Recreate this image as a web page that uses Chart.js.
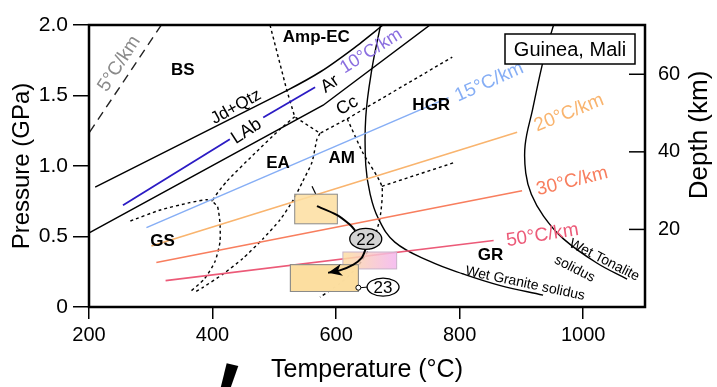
<!DOCTYPE html>
<html>
<head>
<meta charset="utf-8">
<script src="https://cdn.jsdelivr.net/npm/chart.js@4.4.1/dist/chart.umd.min.js"></script>
<style>
  html, body { margin: 0; padding: 0; background: #fff; }
  #wrap { width: 717px; height: 387px; }
</style>
</head>
<body>
<div id="wrap"><canvas id="ptChart" width="717" height="387"></canvas></div>
<script>
// P-T diagram, temperature (°C) vs pressure (GPa) with depth (km) on the right

const kmPerGPa = 36.35;

// geotherms, [T, P]
const geo5 = [[201, 1.24], [317, 2.0]];
const geo10a = [[255, 0.722], [428, 1.189]];
const geo10b = [[482, 1.344], [566, 1.558]];
const geo15 = [[293, 0.563], [782, 1.485]];
const geo20 = [[301, 0.433], [893, 1.239]];
const geo30 = [[309, 0.316], [901, 0.824]];
const geo50 = [[324, 0.187], [855, 0.472]];

// reactions and solidi
const jdQtz = [[210, 0.85], [520, 1.535], [576, 1.672], [630, 1.84], [676, 2.0]];
const albiteOut = [[201, 0.528], [579, 1.431], [752, 2.0]];
const graniteSolidus = [[672, 2.0], [658, 1.69], [648, 1.348], [648, 1.007], [655, 0.802], [668, 0.631],
  [695, 0.46], [752, 0.323], [806, 0.234], [866, 0.152], [935, 0.084]];
const tonaliteSolidus = [[952, 2.0], [936, 1.76], [918, 1.4], [906, 1.15], [907, 0.95], [916, 0.8],
  [936, 0.643], [968, 0.483], [1022, 0.312], [1071, 0.198]];

// facies boundaries (dotted)
const faciesTop = [[493, 2.0], [520, 1.54], [533, 1.349], [574, 1.232], [618, 1.335], [788, 1.772]];
const faciesEaGs = [[533, 1.349], [509, 1.26], [465, 1.075], [423, 0.891], [400, 0.754], [408, 0.713],
  [412, 0.597], [412, 0.46], [404, 0.323], [387, 0.2], [363, 0.105]];
const faciesGs = [[267, 0.61], [314, 0.686], [363, 0.74], [390, 0.761], [400, 0.754]];
const faciesEaAm = [[574, 1.232], [569, 1.191], [561, 1.027], [546, 0.891], [530, 0.754], [509, 0.617],
  [481, 0.481], [449, 0.344], [417, 0.234], [384, 0.138], [371, 0.105]];
const faciesAmHgr = [[618, 1.335], [643, 1.096], [674, 0.856], [671, 0.631], [658, 0.446], [634, 0.282],
  [606, 0.166], [574, 0.07]];
const faciesHgrBranch = [[674, 0.856], [793, 1.027]];
const box1Marker = [[561, 0.856], [567, 0.802]];

// P-T boxes: temperature range and pressure range
const boxT = [[533, 602], [526, 636], [611, 698]];
const boxP = [[0.59, 0.80], [0.11, 0.30], [0.27, 0.39]];

// retrograde path between the boxes
const pathIn = [[569, 0.715], [601, 0.654], [622, 0.585], [631, 0.542]];
const pathOut = [[648, 0.414], [641, 0.346], [628, 0.301], [606, 0.26], [587, 0.243]];
const sample22 = [648, 0.483];
const sample23 = [676, 0.141];
const sample23Anchor = [636, 0.137];

const FONT = "'Liberation Sans', Arial, sans-serif";
Chart.defaults.font.family = FONT;
Chart.defaults.color = '#000';

const regionLabels = [
  ['BS', 352, 1.68], ['Amp-EC', 568, 1.912], ['HGR', 754, 1.431], ['EA', 506, 1.02],
  ['AM', 609, 1.058], ['GS', 319, 0.467], ['GR', 850, 0.364]
];
const curveLabels = [
  { text: '5°C/km', t: 249, p: 1.725, rot: -57, color: '#8a8a8a', size: 19 },
  { text: 'Jd+Qtz', t: 438, p: 1.418, rot: -29, color: '#000', size: 17 },
  { text: 'LAb', t: 455, p: 1.246, rot: -33, color: '#000', size: 18 },
  { text: 'Ar', t: 590, p: 1.581, rot: -35, color: '#000', size: 18 },
  { text: 'Cc', t: 618, p: 1.428, rot: -30, color: '#000', size: 18 },
  { text: '10°C/km', t: 657, p: 1.815, rot: -32, color: '#8b6fe0', size: 18 },
  { text: '15°C/km', t: 848, p: 1.595, rot: -24, color: '#86aef5', size: 19 },
  { text: '20°C/km', t: 977, p: 1.376, rot: -22, color: '#f9b46e', size: 19 },
  { text: '30°C/km', t: 982, p: 0.891, rot: -14, color: '#f87e5e', size: 19 },
  { text: '50°C/km', t: 934, p: 0.508, rot: -9, color: '#ec5a78', size: 19 },
  { text: 'Wet Granite solidus', t: 906, p: 0.166, rot: 12, color: '#000', size: 14 },
  { text: 'Wet Tonalite', t: 1034, p: 0.332, rot: 27, color: '#000', size: 14 },
  { text: 'solidus', t: 986, p: 0.27, rot: 27, color: '#000', size: 14 }
];

const toXY = arr => arr.map(([t, p]) => ({ x: t, y: p }));

function lineSet(data, color, width, dash, tension) {
  return {
    data: toXY(data), showLine: true, borderColor: color, borderWidth: width,
    borderDash: dash || [], pointRadius: 0, tension: tension || 0, fill: false
  };
}

const DOT = [3, 3];
const datasets = [
  lineSet(geo5, '#222', 1.4, [9, 6]),
  lineSet(geo10a, '#2b1bc4', 1.8),
  lineSet(geo10b, '#2b1bc4', 1.8),
  lineSet(geo15, '#86aef5', 1.6),
  lineSet(geo20, '#f9b46e', 1.6),
  lineSet(geo30, '#f87e5e', 1.6),
  lineSet(geo50, '#ec5a78', 1.6),
  lineSet(jdQtz, '#000', 1.5, null, 0.2),
  lineSet(albiteOut, '#000', 1.5),
  lineSet(graniteSolidus, '#000', 1.4, null, 0.4),
  lineSet(tonaliteSolidus, '#000', 1.4, null, 0.4),
  lineSet(faciesTop, '#000', 1.4, DOT),
  lineSet(faciesEaGs, '#000', 1.4, DOT, 0.2),
  lineSet(faciesGs, '#000', 1.4, DOT, 0.2),
  lineSet(faciesEaAm, '#000', 1.4, DOT, 0.2),
  lineSet(faciesAmHgr, '#000', 1.4, DOT, 0.2),
  lineSet(faciesHgrBranch, '#000', 1.4, DOT),
  lineSet(box1Marker, '#000', 1.2)
];

function smoothPath(ctx, pts) {
  ctx.moveTo(pts[0][0], pts[0][1]);
  for (let i = 0; i < pts.length - 1; i++) {
    const p0 = pts[i - 1] || pts[i], p1 = pts[i], p2 = pts[i + 1], p3 = pts[i + 2] || p2;
    ctx.bezierCurveTo(
      p1[0] + (p2[0] - p0[0]) / 6, p1[1] + (p2[1] - p0[1]) / 6,
      p2[0] - (p3[0] - p1[0]) / 6, p2[1] - (p3[1] - p1[1]) / 6,
      p2[0], p2[1]);
  }
}

const overlayPlugin = {
  id: 'ptOverlay',
  afterDatasetsDraw(chart) {
    const { ctx, scales: { x, y } } = chart;
    const pt = ([t, p]) => [x.getPixelForValue(t), y.getPixelForValue(p)];
    ctx.save();

    // boxes
    boxT.forEach((tr, i) => {
      const [x0, y0] = pt([tr[0], boxP[i][1]]);
      const [x1, y1] = pt([tr[1], boxP[i][0]]);
      if (i === 2) {
        const g = ctx.createLinearGradient(x0, 0, x1, 0);
        g.addColorStop(0, 'rgba(253,222,160,0.85)');
        g.addColorStop(1, 'rgba(244,180,238,0.85)');
        ctx.fillStyle = g;
        ctx.strokeStyle = '#c9b2c9';
      } else {
        ctx.fillStyle = 'rgba(253,222,160,0.85)';
        ctx.strokeStyle = '#8a8a8a';
      }
      ctx.lineWidth = 1;
      ctx.fillRect(x0, y0, x1 - x0, y1 - y0);
      ctx.strokeRect(x0, y0, x1 - x0, y1 - y0);
    });
    // second box sits over the third one
    {
      const [x0, y0] = pt([boxT[1][0], boxP[1][1]]);
      const [x1, y1] = pt([boxT[1][1], boxP[1][0]]);
      ctx.fillStyle = 'rgba(253,222,160,0.9)';
      ctx.fillRect(x0, y0, x1 - x0, y1 - y0);
      ctx.strokeStyle = '#8a8a8a';
      ctx.strokeRect(x0, y0, x1 - x0, y1 - y0);
    }

    // path arrow
    ctx.strokeStyle = '#000';
    ctx.lineWidth = 2;
    ctx.setLineDash([]);
    ctx.beginPath(); smoothPath(ctx, pathIn.map(pt)); ctx.stroke();
    const outPx = pathOut.map(pt);
    ctx.beginPath(); smoothPath(ctx, outPx); ctx.stroke();
    const tip = outPx[outPx.length - 1], prev = outPx[outPx.length - 2];
    const a = Math.atan2(tip[1] - prev[1], tip[0] - prev[0]);
    ctx.save();
    ctx.translate(tip[0], tip[1]);
    ctx.rotate(a);
    ctx.beginPath();
    ctx.moveTo(0, 0);
    ctx.lineTo(-14, -6);
    ctx.lineTo(-10, 0);
    ctx.lineTo(-14, 6);
    ctx.closePath();
    ctx.fillStyle = '#000';
    ctx.fill();
    ctx.restore();

    // sample markers
    const drawTag = (c, label, fill, rx, ry) => {
      const [cx, cy] = pt(c);
      ctx.beginPath();
      ctx.ellipse(cx, cy, rx, ry, 0, 0, Math.PI * 2);
      ctx.fillStyle = fill;
      ctx.fill();
      ctx.lineWidth = 1.3;
      ctx.strokeStyle = '#000';
      ctx.stroke();
      ctx.fillStyle = '#000';
      ctx.font = '17px ' + FONT;
      ctx.textAlign = 'center';
      ctx.textBaseline = 'middle';
      ctx.fillText(label, cx, cy + 1);
      return [cx, cy];
    };
    drawTag(sample22, '22', '#d4d4d4', 16, 10.5);
    const c23 = drawTag(sample23, '23', '#fff', 16, 9);
    const [ax, ay] = pt(sample23Anchor);
    ctx.beginPath();
    ctx.moveTo(ax + 2.5, ay);
    ctx.lineTo(c23[0] - 16, c23[1]);
    ctx.lineWidth = 1;
    ctx.stroke();
    ctx.beginPath();
    ctx.arc(ax, ay, 2.5, 0, Math.PI * 2);
    ctx.fillStyle = '#fff';
    ctx.fill();
    ctx.stroke();

    // field names
    ctx.fillStyle = '#000';
    ctx.font = 'bold 17px ' + FONT;
    ctx.textAlign = 'center';
    ctx.textBaseline = 'middle';
    regionLabels.forEach(([txt, t, p]) => {
      const [lx, ly] = pt([t, p]);
      ctx.fillText(txt, lx, ly);
    });

    // curve labels
    curveLabels.forEach(l => {
      const [lx, ly] = pt([l.t, l.p]);
      ctx.save();
      ctx.translate(lx, ly);
      ctx.rotate(l.rot * Math.PI / 180);
      ctx.font = l.size + 'px ' + FONT;
      ctx.fillStyle = l.color;
      ctx.fillText(l.text, 0, 0);
      ctx.restore();
    });

    // locality box
    const area = chart.chartArea;
    const bw = 130, bh = 30;
    const bx = area.right - 10 - bw, by = area.top + 9;
    ctx.fillStyle = '#fff';
    ctx.fillRect(bx, by, bw, bh);
    ctx.strokeStyle = '#000';
    ctx.lineWidth = 1.5;
    ctx.strokeRect(bx, by, bw, bh);
    ctx.fillStyle = '#000';
    ctx.font = '20px ' + FONT;
    ctx.fillText('Guinea, Mali', bx + bw / 2, by + bh / 2 + 1);

    ctx.restore();
  },
  afterDraw(chart) {
    const { ctx, chartArea: area, scales: { y2 } } = chart;
    ctx.save();
    // frame
    ctx.strokeStyle = '#000';
    ctx.lineWidth = 2.5;
    ctx.strokeRect(area.left, area.top, area.right - area.left, area.bottom - area.top);
    // inward depth ticks
    ctx.lineWidth = 1.5;
    y2.ticks.forEach(tk => {
      if (tk.value === 0) return;
      const yy = y2.getPixelForValue(tk.value);
      ctx.beginPath();
      ctx.moveTo(area.right, yy);
      ctx.lineTo(area.right - 16, yy);
      ctx.stroke();
    });
    // depth axis title
    ctx.translate(area.right + 55, y2.getPixelForValue(1.22 * kmPerGPa));
    ctx.rotate(-Math.PI / 2);
    ctx.font = '26px ' + FONT;
    ctx.fillStyle = '#000';
    ctx.textAlign = 'center';
    ctx.textBaseline = 'middle';
    ctx.fillText('Depth (km)', 0, 0);
    ctx.restore();

    // stray stroke below the axis
    ctx.save();
    ctx.fillStyle = '#000';
    ctx.beginPath();
    ctx.moveTo(226.7, 363.3);
    ctx.lineTo(238.3, 366);
    ctx.lineTo(230.7, 387.5);
    ctx.lineTo(220.7, 387.5);
    ctx.closePath();
    ctx.fill();
    ctx.restore();
  }
};

new Chart(document.getElementById('ptChart'), {
  type: 'scatter',
  data: { datasets: datasets },
  options: {
    responsive: false,
    animation: false,
    events: [],
    layout: { padding: { left: 0, right: 0, top: 16, bottom: 0 } },
    plugins: { legend: { display: false }, tooltip: { enabled: false } },
    scales: {
      x: {
        type: 'linear', min: 200, max: 1100,
        afterFit: s => { s.height = 80; },
        ticks: { stepSize: 200, includeBounds: false, font: { size: 20 }, padding: 4, maxRotation: 0, callback: v => String(v) },
        grid: { drawOnChartArea: false, color: '#000', lineWidth: 1.5, tickLength: 12 },
        border: { display: false },
        title: { display: true, text: 'Temperature (°C)', font: { size: 25 }, padding: { top: 0, bottom: 2 } }
      },
      y: {
        type: 'linear', min: 0, max: 2, position: 'left',
        afterFit: s => { s.width = 89; },
        ticks: { stepSize: 0.5, font: { size: 21 }, padding: 5, callback: v => v === 0 ? '0' : v.toFixed(1) },
        grid: { drawOnChartArea: false, color: '#000', lineWidth: 1.5, tickLength: 16 },
        border: { display: false },
        title: { display: true, text: 'Pressure (GPa)', font: { size: 24 }, padding: { top: 8 } }
      },
      y2: {
        type: 'linear', min: 0, max: 2 * kmPerGPa, position: 'right',
        afterFit: s => { s.width = 72; },
        ticks: { stepSize: 20, includeBounds: false, font: { size: 20 }, padding: 13, callback: v => v === 0 ? '' : String(v) },
        grid: { drawOnChartArea: false, drawTicks: false },
        border: { display: false }
      }
    }
  },
  plugins: [overlayPlugin]
});
</script>
</body>
</html>
